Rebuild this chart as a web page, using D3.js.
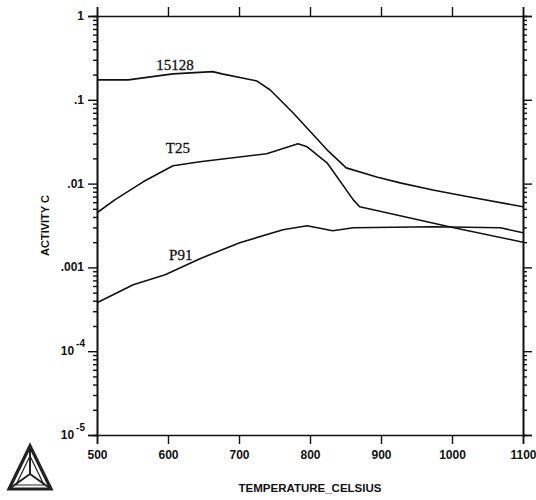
<!DOCTYPE html>
<html>
<head>
<meta charset="utf-8">
<script src="https://cdn.jsdelivr.net/npm/d3@7"></script>
<style>
  html, body { margin: 0; padding: 0; background: #fff; }
  svg { display: block; }
</style>
</head>
<body>
<svg id="chart" width="536" height="500"></svg>
<script>
// Carbon activity vs. temperature for three steels
const temperatures15128 = [500, 544, 607, 663, 676, 725, 744, 776, 824, 851, 894, 927, 973, 1021, 1100];
const activity15128 = [0.173, 0.173, 0.204, 0.217, 0.204, 0.168, 0.131, 0.070, 0.0253, 0.0154, 0.0120, 0.0102, 0.0084, 0.0070, 0.0053];

const temperaturesT25 = [500, 525, 565, 607, 645, 739, 783, 796, 824, 861, 870, 908, 1001, 1100];
const activityT25 = [0.00449, 0.0064, 0.0105, 0.0163, 0.0182, 0.0227, 0.0298, 0.0275, 0.0177, 0.0064, 0.0053, 0.0045, 0.0030, 0.0020];

const temperaturesP91 = [500, 551, 596, 645, 701, 762, 796, 832, 861, 973, 1068, 1100];
const activityP91 = [0.000379, 0.000622, 0.000819, 0.00127, 0.00197, 0.00281, 0.00314, 0.00274, 0.00297, 0.00305, 0.00297, 0.00259];

const seriesNames = ["15128", "T25", "P91"];
const labelAnchors = [[610, 0.227], [614, 0.0233], [618, 0.00124]]; // [temperature, activity] of each curve label

const xTicks = [500, 600, 700, 800, 900, 1000, 1100];
const yMajorTicks = [1, 0.1, 0.01, 0.001, 1e-4, 1e-5];
const yTickLabels = ["1", ".1", ".01", ".001", "10|-4", "10|-5"];

const xTitle = "TEMPERATURE_CELSIUS";
const yTitle = "ACTIVITY C";

const svg = d3.select("#chart");
const plotLeft = 97, plotRight = 523, plotTop = 16, plotBottom = 435;

const x = d3.scaleLinear().domain([500, 1100]).range([plotLeft, plotRight]);
const y = d3.scaleLog().domain([1e-5, 1]).range([plotBottom, plotTop]);

// minor log ticks 2..9 within each decade
const yMinorTicks = [];
for (let e = -5; e < 0; e++) {
  for (let m = 2; m <= 9; m++) yMinorTicks.push(m * Math.pow(10, e));
}

const axisFont = "'Liberation Sans', Arial, sans-serif";
const major = 9, minor = 4;

// left axis
const gl = svg.append("g").attr("transform", `translate(${plotLeft},0)`);
gl.call(d3.axisLeft(y).tickValues(yMajorTicks).tickSize(major).tickFormat(""));
gl.append("g").call(d3.axisLeft(y).tickValues(yMinorTicks).tickSize(minor).tickFormat(""));

// right axis
const gr = svg.append("g").attr("transform", `translate(${plotRight},0)`);
gr.call(d3.axisRight(y).tickValues(yMajorTicks).tickSize(major).tickFormat(""));
gr.append("g").call(d3.axisRight(y).tickValues(yMinorTicks).tickSize(minor).tickFormat(""));

// bottom axis
const gb = svg.append("g").attr("transform", `translate(0,${plotBottom})`);
gb.call(d3.axisBottom(x).tickValues(xTicks).tickSize(major).tickPadding(5).tickFormat(d3.format("d")));

// top axis
const gt = svg.append("g").attr("transform", `translate(0,${plotTop})`);
gt.call(d3.axisTop(x).tickValues(xTicks).tickSize(major).tickFormat(""));

svg.selectAll(".domain").attr("stroke", "#111").attr("stroke-width", 1.6);
svg.selectAll(".tick line").attr("stroke", "#111").attr("stroke-width", 1.4);

gb.selectAll(".tick text")
  .attr("font-family", axisFont).attr("font-weight", "bold")
  .attr("font-size", 12).attr("fill", "#111").attr("dy", "0.85em");

// y tick labels, with superscript exponents
yMajorTicks.forEach((v, i) => {
  const parts = yTickLabels[i].split("|");
  const t = svg.append("text")
    .attr("font-family", axisFont).attr("font-weight", "bold")
    .attr("font-size", 12).attr("fill", "#111")
    .attr("text-anchor", "end")
    .attr("x", parts.length > 1 ? 85 : 84)
    .attr("y", y(v) + 4);
  t.append("tspan").text(parts[0]);
  if (parts.length > 1) {
    t.append("tspan").attr("dy", -8).attr("dx", 2).attr("font-size", 10).text(parts[1]);
  }
});

// axis titles
svg.append("text")
  .attr("x", (plotLeft + plotRight) / 2).attr("y", 492)
  .attr("text-anchor", "middle")
  .attr("font-family", axisFont).attr("font-weight", "bold")
  .attr("font-size", 11.5).attr("fill", "#111")
  .text(xTitle);

svg.append("text")
  .attr("transform", `translate(49,${(plotTop + plotBottom) / 2}) rotate(-90)`)
  .attr("text-anchor", "middle")
  .attr("font-family", axisFont).attr("font-weight", "bold")
  .attr("font-size", 11).attr("fill", "#111")
  .text(yTitle);

// curves
const line = d3.line().x(d => x(d[0])).y(d => y(d[1]));
const series = [
  d3.zip(temperatures15128, activity15128),
  d3.zip(temperaturesT25, activityT25),
  d3.zip(temperaturesP91, activityP91)
];
svg.append("g").selectAll("path").data(series).join("path")
  .attr("d", line)
  .attr("fill", "none")
  .attr("stroke", "#111")
  .attr("stroke-width", 1.6)
  .attr("stroke-linejoin", "round");

// curve labels
svg.append("g").selectAll("text").data(seriesNames).join("text")
  .attr("x", (d, i) => x(labelAnchors[i][0]))
  .attr("y", (d, i) => y(labelAnchors[i][1]))
  .attr("text-anchor", "middle")
  .attr("font-family", "'Liberation Serif', 'Times New Roman', serif")
  .attr("font-size", 15).attr("fill", "#111")
  .attr("stroke", "#111").attr("stroke-width", 0.3)
  .text(d => d);

// logo: triangle with inner triangle and spokes
const logo = svg.append("g").attr("fill", "none").attr("stroke", "#222").attr("stroke-linejoin", "miter");
const outer = [[30, 446], [9, 489], [51, 489]];
logo.append("polygon").attr("points", outer.map(p => p.join(",")).join(" ")).attr("stroke-width", 3.2);
const inner = [[30, 456], [16, 485], [44, 485]];
logo.append("polygon").attr("points", inner.map(p => p.join(",")).join(" ")).attr("stroke-width", 1.2);
const center = [30, 474];
outer.forEach(p => {
  logo.append("line").attr("x1", center[0]).attr("y1", center[1]).attr("x2", p[0]).attr("y2", p[1]).attr("stroke-width", 2);
});
</script>
</body>
</html>
